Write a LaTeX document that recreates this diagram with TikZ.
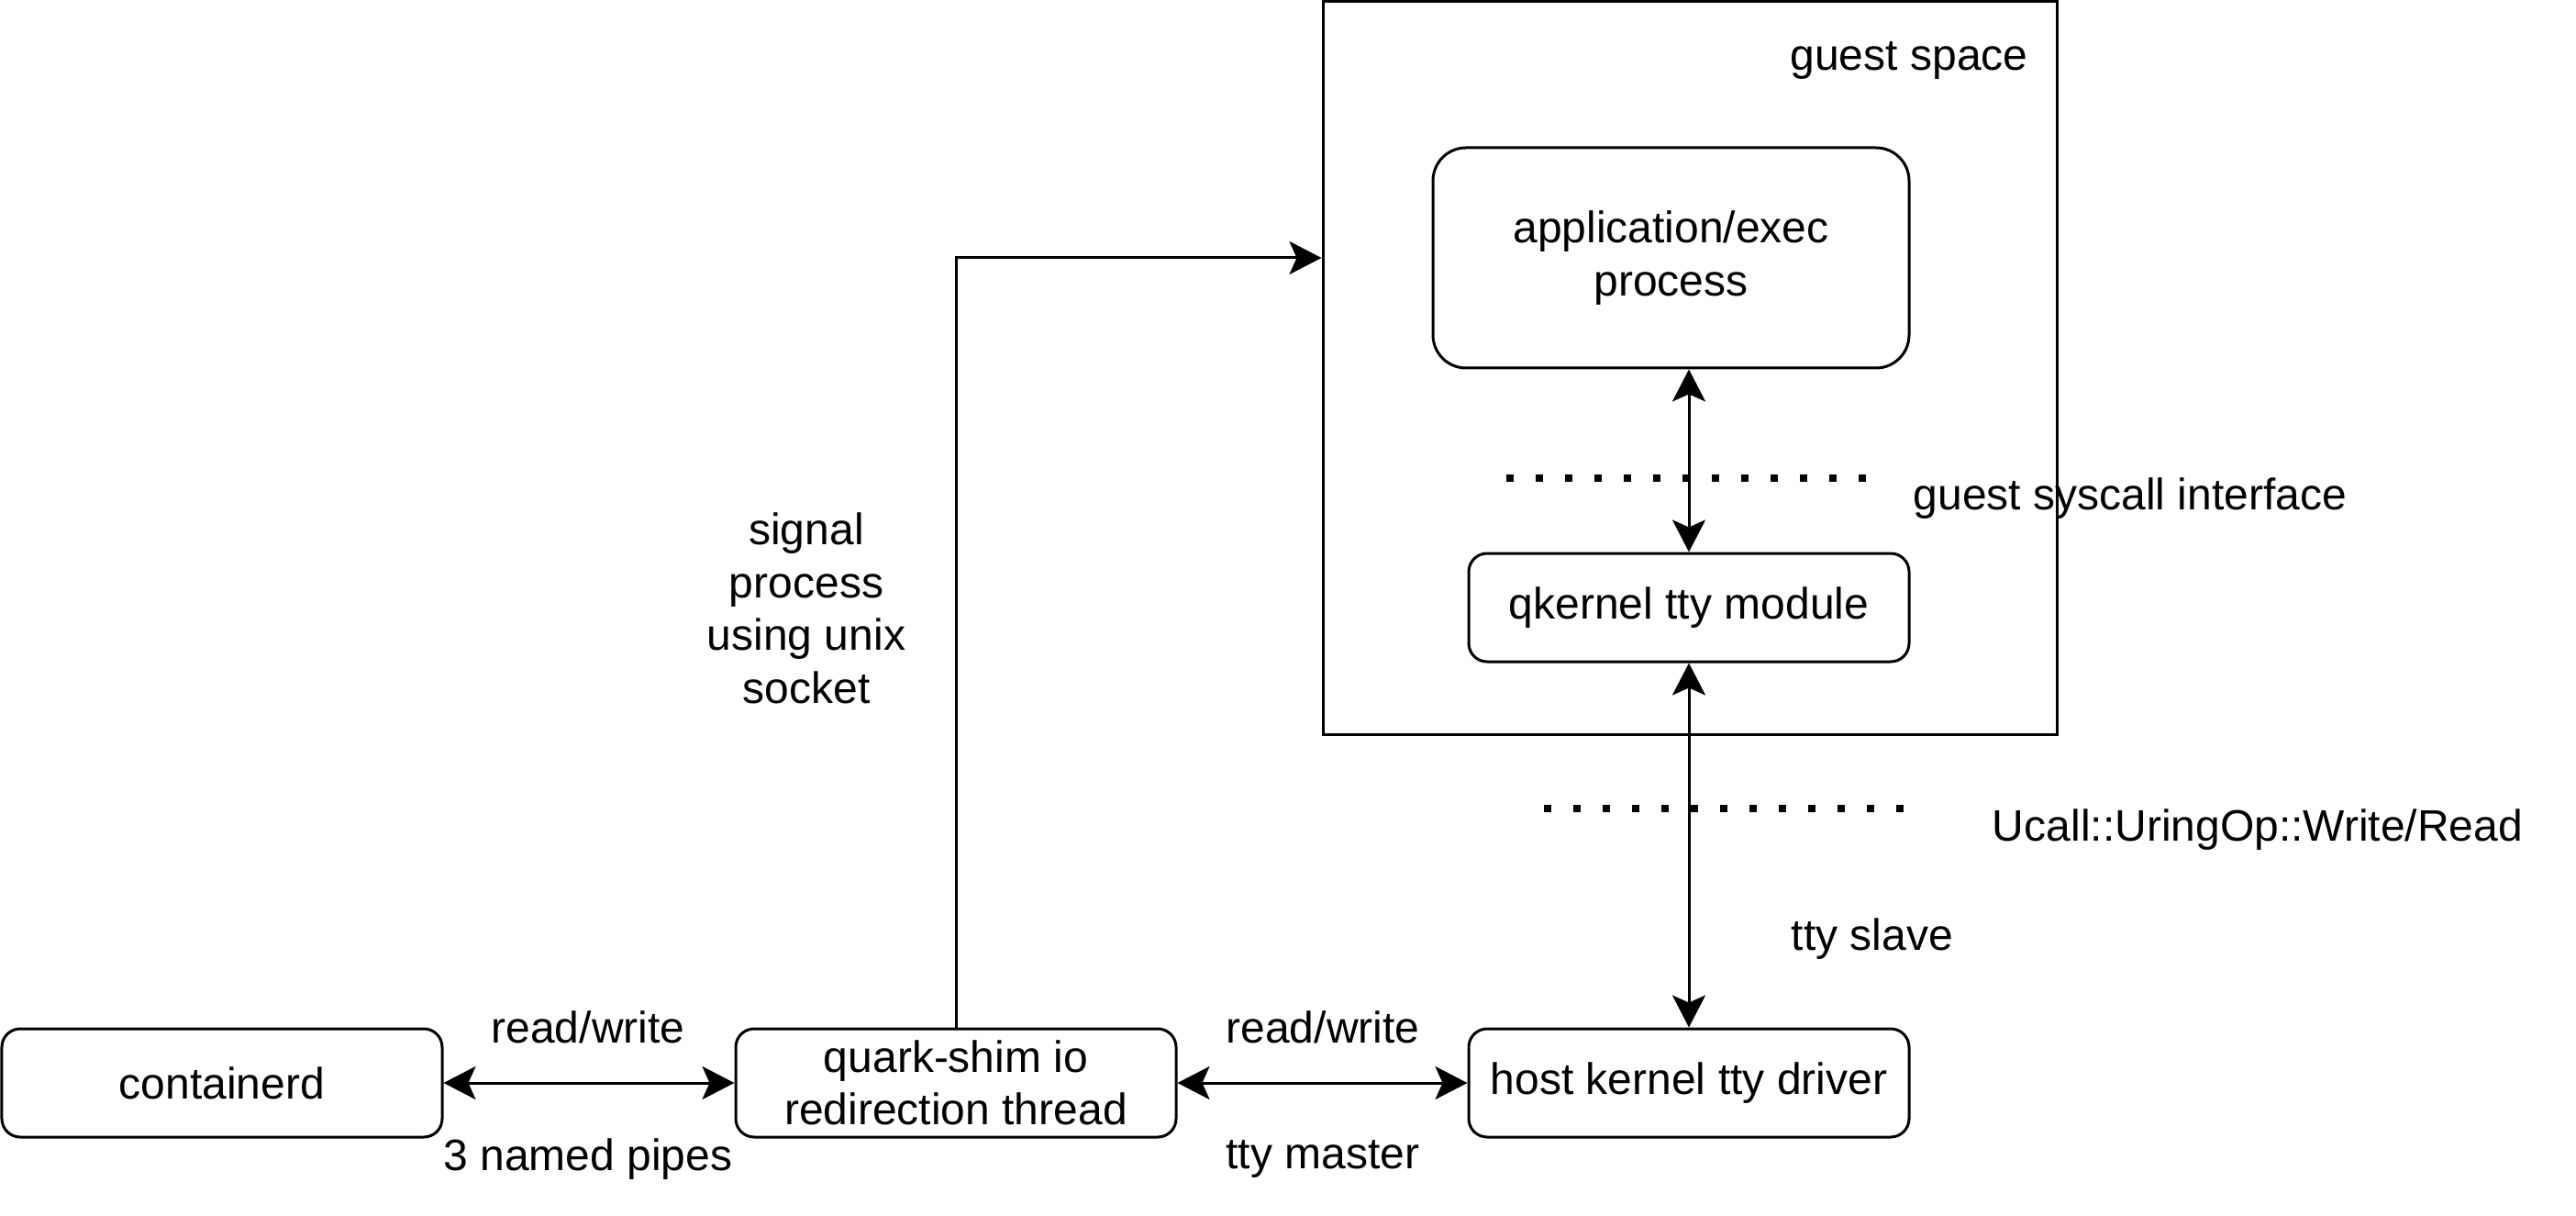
\documentclass[tikz,border=0pt]{standalone}
\usepackage{fontspec}
\setmainfont{Liberation Sans}
\usetikzlibrary{arrows.meta}

\begin{document}
\begin{tikzpicture}[line width=0.03cm,
  font=\fontsize{13.66}{16.4}\selectfont,
  box/.style={draw,rounded corners=0.2cm,minimum width=4.8cm,minimum height=1.18cm,inner sep=0pt,align=center},
  link/.style={{Stealth[length=0.35cm,width=0.36cm,inset=0.08cm]}-{Stealth[length=0.35cm,width=0.36cm,inset=0.08cm]}},
  onelink/.style={-{Stealth[length=0.35cm,width=0.36cm,inset=0.08cm]}},
  boundary/.style={line width=0.08cm,dash pattern=on 0.08cm off 0.24cm}]
\useasboundingbox (0,0) rectangle (28.08,13.24);
% guest side
\node at (18.42,9.23) [draw,minimum width=8cm,minimum height=7.98cm,inner sep=0pt] (guest) {};
\node at (20.81,12.58) (guestlbl) {guest space};
\node at (18.215,10.43) [box,rounded corners=0.36cm,minimum width=5.19cm,minimum height=2.4cm] (app) {application/exec\\process};
\node at (18.41,6.62) [box] (qk) {qkernel tty module};
\coordinate (sys1) at (16.42,8.03);
\coordinate (sys2) at (20.38,8.03);
\node at (23.22,7.81) (syslbl) {guest syscall interface};
% host side
\node at (2.42,1.44) [box] (ctr) {containerd};
\node at (10.42,1.44) [box] (shim) {quark-shim io\\redirection thread};
\node at (18.41,1.44) [box] (host) {host kernel tty driver};
\coordinate (uc1) at (16.83,4.43);
\coordinate (uc2) at (20.77,4.43);
\node at (24.61,4.2) (uclbl) {Ucall::UringOp::Write/Read};
% labels
\node at (6.41,2.05) (rw1) {read/write};
\node at (6.41,0.61) (pipes) {3 named pipes};
\node at (14.42,2.05) (rw2) {read/write};
\node at (14.42,0.61) (master) {tty master};
\node at (20.41,3.01) (slave) {tty slave};
\node at (8.79,6.61) [align=center] (sig) {signal\\process\\using unix\\socket};
% connectors
\draw [boundary] (sys1) -- (sys2);
\draw [boundary] (uc1) -- (uc2);
\draw [link] (qk.north) -- (qk.north |- app.south);
\draw [link] (qk.south) -- (host.north);
\draw [link] (ctr.east) -- (shim.west);
\draw [link] (shim.east) -- (host.west);
\draw [onelink] (shim.north) |- (app -| guest.west);
\end{tikzpicture}
\end{document}
